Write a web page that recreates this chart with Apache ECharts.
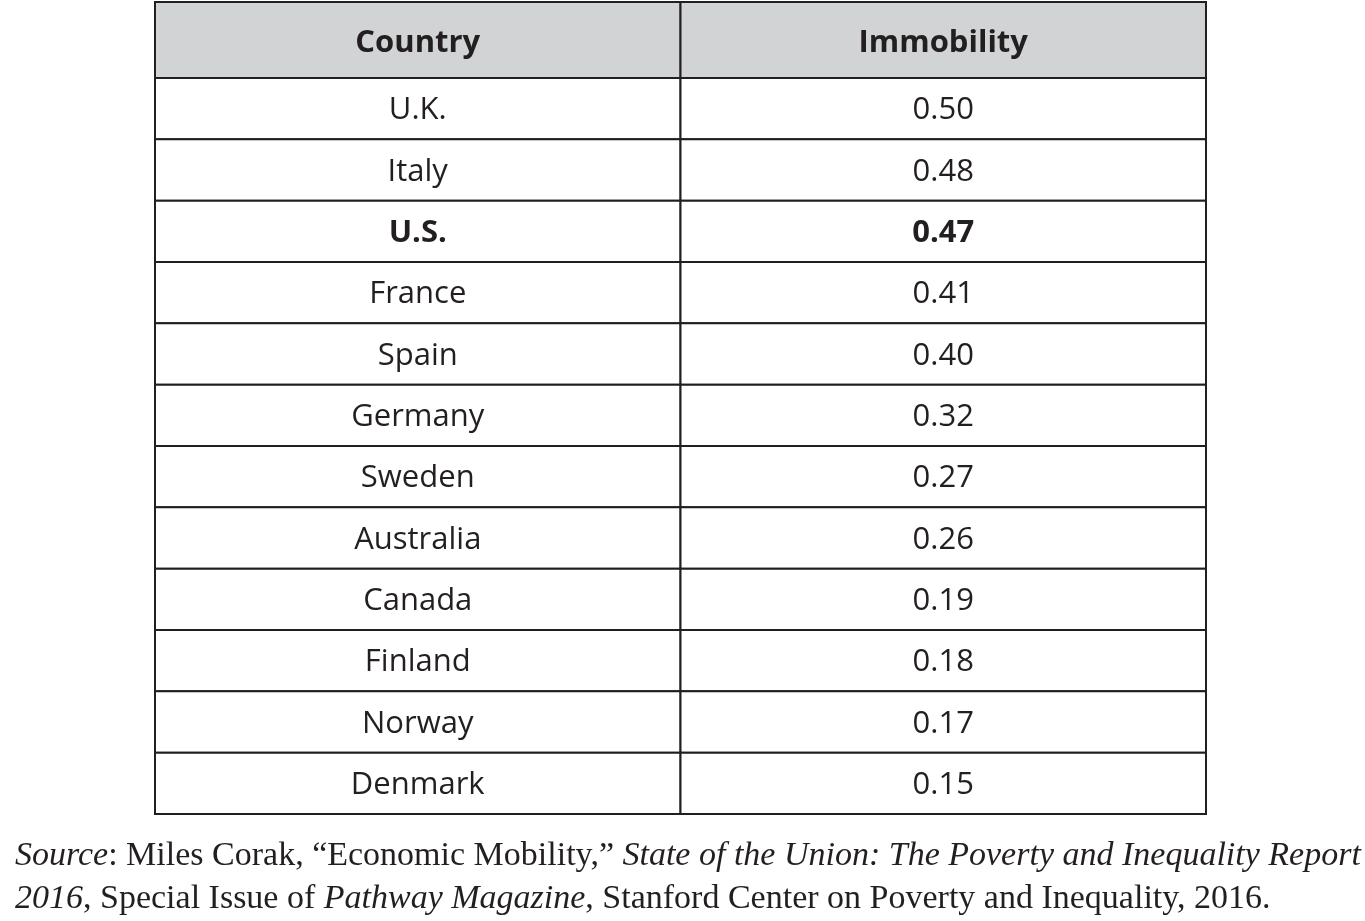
<!DOCTYPE html>
<html><head><meta charset="utf-8">
<script src="https://cdn.jsdelivr.net/npm/echarts@6/dist/echarts.min.js"></script>
<style>html,body{margin:0;padding:0;background:#fff}#c{width:1365px;height:921px}</style>
</head><body><div id="c"></div>
<script>
var headers = ['Country', 'Immobility'];
var countries = ['U.K.', 'Italy', 'U.S.', 'France', 'Spain', 'Germany', 'Sweden', 'Australia', 'Canada', 'Finland', 'Norway', 'Denmark'];
var immobility = [0.50, 0.48, 0.47, 0.41, 0.40, 0.32, 0.27, 0.26, 0.19, 0.18, 0.17, 0.15];
var boldRows = ['U.S.'];

var INK = '#231f20';
var SANS = '"Source Sans Pro","Open Sans","Noto Sans",sans-serif';
var SERIF = '"Liberation Serif","DejaVu Serif",serif';

var headerData = headers.map(function (h, i) { return [i, 0, h]; });
var bodyData = [];
countries.forEach(function (c, i) {
  var b = boldRows.indexOf(c) >= 0 ? 1 : 0;
  bodyData.push([0, i, c, b]);
  bodyData.push([1, i, immobility[i].toFixed(2), b]);
});

function makeRender(fill, forceBold, dy) {
  return function (params, api) {
    var p = api.coord([api.value(0), api.value(1)]);
    var s = api.size([1, 1]);
    var bold = forceBold || api.value(3) === 1;
    return {
      type: 'group',
      children: [
        { type: 'rect', shape: { x: p[0] - s[0] / 2, y: p[1] - s[1] / 2, width: s[0], height: s[1] },
          style: { fill: fill, stroke: INK, lineWidth: 2 } },
        { type: 'text', x: p[0], y: p[1] + dy,
          style: { text: String(api.value(2)), fill: INK, align: 'center', verticalAlign: 'middle',
                   font: (bold ? 'bold ' : '') + '31px ' + SANS } }
      ]
    };
  };
}

var richStyles = { i: { font: 'italic 34px ' + SERIF, fill: INK }, n: { font: '34px ' + SERIF, fill: INK } };

var chart = echarts.init(document.getElementById('c'));
chart.setOption({
  animation: false,
  grid: [
    { left: 155, right: 159, top: 2, height: 76 },
    { left: 155, right: 159, top: 78, height: 736 }
  ],
  xAxis: [
    { gridIndex: 0, type: 'category', data: headers, show: false },
    { gridIndex: 1, type: 'category', data: headers, show: false }
  ],
  yAxis: [
    { gridIndex: 0, type: 'category', data: ['h'], show: false },
    { gridIndex: 1, type: 'category', data: countries, inverse: true, show: false }
  ],
  series: [
    { type: 'custom', xAxisIndex: 0, yAxisIndex: 0, data: headerData, renderItem: makeRender('#d1d3d4', true, 3), encode: { x: 0, y: 1 } },
    { type: 'custom', xAxisIndex: 1, yAxisIndex: 1, data: bodyData, renderItem: makeRender('#ffffff', false, 2), encode: { x: 0, y: 1 } }
  ],
  graphic: [
    { type: 'text', left: 15, top: 839,
      style: { text: '{i|Source}{n|: Miles Corak, \u201cEconomic Mobility,\u201d }{i|State of the Union: The Poverty and Inequality Report}',
        fill: INK, rich: richStyles } },
    { type: 'text', left: 15, top: 882,
      style: { text: '{i|2016}{n|, Special Issue of }{i|Pathway Magazine}{n|, Stanford Center on Poverty and Inequality, 2016.}',
        fill: INK, rich: richStyles } }
  ]
});
</script>
</body></html>
